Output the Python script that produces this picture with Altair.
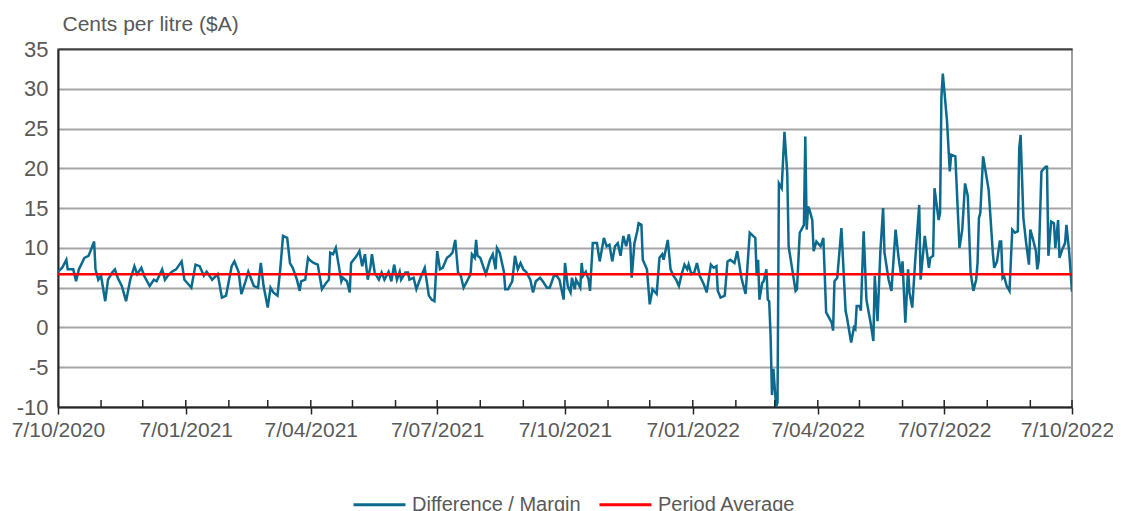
import altair as alt
import pandas as pd

# ---- data ----
start_date = "2020-10-07"
end_date = "2022-10-07"
period_average = 6.7

day_offsets = [
    0, 3, 6, 7, 11, 13, 15, 19, 22, 26, 27, 29, 31, 34, 36, 39, 41, 43, 46, 49, 52, 55, 57, 60, 62, 66, 69, 71,
    75, 77, 79, 82, 85, 89, 91, 94, 96, 99, 102, 105, 107, 111, 115, 118, 121, 125, 127, 130, 132, 135, 137,
    141, 144, 146,
    148, 151, 153, 155, 158, 160, 162, 165, 167, 169, 172, 174, 175, 178, 180, 181, 184, 187, 190, 193, 195,
    196, 198, 200, 202, 204, 205, 208, 210, 211, 215, 217, 219, 221, 223, 225, 226, 228, 231, 233, 235, 238,
    240, 242, 244, 246, 247, 250, 252, 253, 256, 258, 261, 264, 267, 269, 271, 273, 275, 277, 280, 282, 284,
    286, 288,
    290, 292, 295, 297, 298, 300, 301, 302, 304, 308, 311, 313, 315, 316, 318, 321, 322, 324, 327, 329, 331,
    333, 335, 337, 340, 342, 344, 347, 349, 352, 354, 357, 359, 361, 364, 365, 367, 369, 370, 372, 373, 376,
    377, 378, 380, 382, 383, 385, 388, 390, 393, 395, 397, 399, 401, 403, 405, 407, 409, 411, 412, 413, 415,
    417, 418, 420, 421, 424, 426, 428, 431,
    433, 435, 436, 439, 441, 443, 445, 447, 449, 451, 453, 454, 456, 458, 460, 462, 465, 467, 470, 472, 474,
    475, 477, 480, 482, 484, 487, 489, 492, 495, 498, 502, 503, 504, 505, 507, 508, 510, 511, 512, 513, 514,
    515, 517, 518, 519, 521, 523, 525, 526, 531, 532, 534, 537, 538, 539, 540, 541, 543, 544, 546, 549, 551,
    553, 557, 558, 559, 561, 564, 567, 568, 571, 573, 574, 575, 577, 578, 580,
    582, 585, 587, 588, 590, 592, 594, 595, 598, 600, 603, 605, 607, 608, 610, 612, 613, 615, 617, 620, 621,
    624, 627, 628, 630, 631, 634, 635, 636, 637, 640, 642, 643, 646, 649, 651, 653, 655, 657, 659, 661, 662,
    663, 664, 666, 670, 673, 674, 676, 678, 679, 680, 681, 683, 685, 687, 689, 691, 692, 693, 695, 697, 699,
    700, 702, 704, 705, 706, 708, 711, 712, 713, 715, 717, 718, 720, 721, 723, 725, 726, 728, 730,
]

margin_values = [
    7.0, 7.5, 8.5, 7.3, 7.3, 5.8, 7.3, 8.75, 9.0, 10.8, 7.3, 6.0, 6.5, 3.3, 6.0, 6.9, 7.3, 6.25, 5.2, 3.3, 6.0,
    7.7, 6.7, 7.5, 6.5, 5.2, 6.0, 5.8, 7.3, 6.0, 6.5, 7.0, 7.3, 8.3, 6.0, 5.4, 5.0, 7.9, 7.7, 6.5, 7.0, 6.0,
    6.7, 3.75, 4.0, 7.7, 8.3, 7.0, 4.2, 5.8, 7.0, 5.2, 5.0, 8.1,
    5.2, 2.5, 5.0, 4.4, 4.0, 7.3, 11.5, 11.25, 8.1, 7.5, 6.0, 4.6, 5.8, 6.0, 8.75, 8.5, 8.1, 7.9, 4.8, 5.6,
    6.0, 9.4, 9.2, 10.0, 7.9, 5.8, 6.25, 5.8, 4.4, 8.1, 9.0, 9.6, 7.7, 9.2, 6.0, 7.7, 9.2, 6.9, 6.0, 6.9, 6.0,
    7.0, 5.8, 7.9, 6.0, 7.0, 6.0, 6.9, 6.9, 6.0, 6.25, 4.8, 6.25, 7.5, 4.0, 3.5, 3.3, 9.6, 7.3, 7.5, 8.75,
    9.0, 9.4, 11.0, 6.9,
    6.5, 5.0, 6.0, 6.7, 9.2, 8.75, 11.0, 9.0, 8.75, 6.7, 8.5, 9.2, 7.3, 10.0, 9.4, 7.0, 4.8, 4.8, 5.8, 9.0,
    7.3, 8.1, 7.3, 7.0, 6.0, 4.4, 5.8, 6.25, 5.8, 5.0, 5.0, 6.5, 6.5, 6.0, 3.5, 8.1, 5.2, 4.4, 6.25, 4.8,
    6.0, 5.0, 8.1, 6.5, 7.0, 6.0, 4.6, 10.6, 10.6, 8.3, 11.25, 10.2, 10.4, 8.3, 10.2, 10.6, 9.0, 11.5, 10.2,
    11.7, 10.6, 6.25, 10.6, 12.1, 13.1, 12.9, 8.5, 7.3, 2.9, 4.8, 4.2,
    8.75, 9.2, 8.5, 11.0, 7.3, 6.5, 6.0, 5.2, 6.7, 7.9, 7.3, 7.9, 6.7, 6.9, 8.1, 6.5, 5.4, 4.4, 7.9, 7.5,
    7.7, 4.6, 3.75, 4.0, 8.3, 8.5, 8.1, 9.6, 6.25, 4.2, 11.9, 11.25, 6.5, 8.5, 3.5, 5.6, 5.8, 7.3, 3.5, 3.3,
    -1.0, -8.5, -5.2, -10.0, -9.4, 18.1, 17.5, 24.6, 19.4, 10.2, 4.6, 4.8, 11.9, 12.9, 24.0, 12.3, 15.2,
    14.8, 13.5, 9.6, 10.8, 10.2, 11.25, 1.9, 0.6, -0.4, 5.8, 6.25, 12.5, 2.1, 1.25, -1.9, 0.0, -0.2, 2.7,
    2.7, 2.1, 12.1,
    3.5, 0.6, -1.7, 6.5, 0.8, 9.4, 15.0, 9.4, 6.0, 4.6, 12.3, 9.0, 6.5, 8.3, 0.6, 7.3, 4.4, 2.5, 8.1, 15.4,
    6.0, 11.5, 7.5, 8.75, 9.0, 17.5, 13.5, 14.4, 29.0, 31.9, 26.0, 19.6, 21.7, 21.5, 10.0, 12.3, 18.1, 16.5,
    6.9, 4.6, 6.0, 8.1, 13.75, 14.4, 21.5, 17.3, 9.4, 7.5, 8.3, 10.8, 10.8, 6.25, 6.5, 5.2, 4.6, 12.3, 11.9,
    12.1, 22.5, 24.2, 13.75, 10.6, 7.9, 12.3, 11.0, 9.6, 7.3, 8.3, 19.6, 20.2, 20.2, 9.0, 13.3, 13.1, 10.0,
    13.5, 8.75, 9.8, 10.6, 12.9, 9.4, 4.5,
]

series_names = ["Difference / Margin", "Period Average"]
series_colors = ["#0b6a8e", "#ff0000"]

major_tick_dates = ["2020-10-07", "2021-01-07", "2021-04-07", "2021-07-07",
                    "2021-10-07", "2022-01-07", "2022-04-07", "2022-07-07", "2022-10-07"]
y_tick_values = [-10, -5, 0, 5, 10, 15, 20, 25, 30, 35]

# ---- tables ----
base = pd.Timestamp(start_date)
margin_df = pd.DataFrame({
    "date": [(base + pd.Timedelta(days=d)).strftime("%Y-%m-%d") for d in day_offsets],
    "value": margin_values,
    "series": series_names[0],
})
avg_df = pd.DataFrame({
    "date": [start_date, end_date],
    "value": [period_average, period_average],
    "series": series_names[1],
})
minor_df = pd.DataFrame({
    "date": [d.strftime("%Y-%m-%d") for d in pd.date_range(start_date, end_date, freq="MS") + pd.Timedelta(days=6)]
})


def dt(s):
    y, m, d = (int(p) for p in s.split("-"))
    return alt.DateTime(year=y, month=m, date=d, utc=True)


FONT = "Liberation Sans"
TXT = "#595959"
last_tick_ms = int(pd.Timestamp(end_date, tz="UTC").timestamp() * 1000)

x_scale = alt.Scale(type="utc", domain=[dt(start_date), dt(end_date)])
y_scale = alt.Scale(domain=[-10, 35], nice=False, zero=False)
color_scale = alt.Scale(domain=series_names, range=series_colors)

x_axis = alt.Axis(
    values=[dt(s) for s in major_tick_dates],
    labelExpr="utcFormat(datum.value, '%-d/%m/%Y')",
    title=None, grid=False,
    domainColor="#262626", domainWidth=2,
    tickColor="#262626", tickWidth=1.5, tickSize=7,
    labelFontSize=21, labelColor=TXT, labelFont=FONT, labelPadding=5,
    labelOverlap=False, labelFlush=False,
    labelOffset={"condition": {"test": f"datum.value >= {last_tick_ms}", "value": -5}, "value": 0},
)
y_axis = alt.Axis(
    values=y_tick_values,
    labelExpr="'' + datum.value",
    title="Cents per litre ($A)", titleAngle=0, titleAlign="left", titleBaseline="alphabetic",
    titleX=4, titleY=-19, titleFontSize=21, titleFontWeight="normal", titleColor=TXT, titleFont=FONT,
    grid=True, gridWidth=2,
    gridColor={"condition": {"test": "datum.value >= 35", "value": "#404040"}, "value": "#a6a6a6"},
    domainColor="#262626", domainWidth=2, ticks=False,
    labelFontSize=22, labelColor=TXT, labelFont=FONT, labelPadding=10, labelOverlap=False,
)

legend = alt.Legend(
    title=None, orient="none", legendX=294, legendY=428, direction="horizontal",
    symbolType="stroke", symbolSize=2700, symbolStrokeWidth=3,
    labelFontSize=20, labelColor=TXT, labelFont=FONT, labelLimit=400,
    columnPadding=12, labelOffset=5,
)

X = alt.X("date:T", scale=x_scale, axis=x_axis)
Y = alt.Y("value:Q", scale=y_scale, axis=y_axis)
C = alt.Color("series:N", scale=color_scale, legend=legend)

blue = alt.Chart(margin_df).mark_line(strokeWidth=2.5, clip=True).encode(x=X, y=Y, color=C)
red = alt.Chart(avg_df).mark_line(strokeWidth=2.5).encode(x=X, y=Y, color=C)
minor = alt.Chart(minor_df).mark_rule(color="#262626", strokeWidth=1.5).encode(
    x=X, y=alt.value(358), y2=alt.value(351),
)

chart = alt.layer(blue, red, minor).properties(
    width=1014, height=358,
    padding={"left": 50, "top": 41, "right": 41, "bottom": 104},
    autosize=alt.AutoSizeParams(type="none"),
).configure_view(stroke="#808080", strokeWidth=1.5)

chart.save("out.html", embed_options={"renderer": "svg", "actions": False})
